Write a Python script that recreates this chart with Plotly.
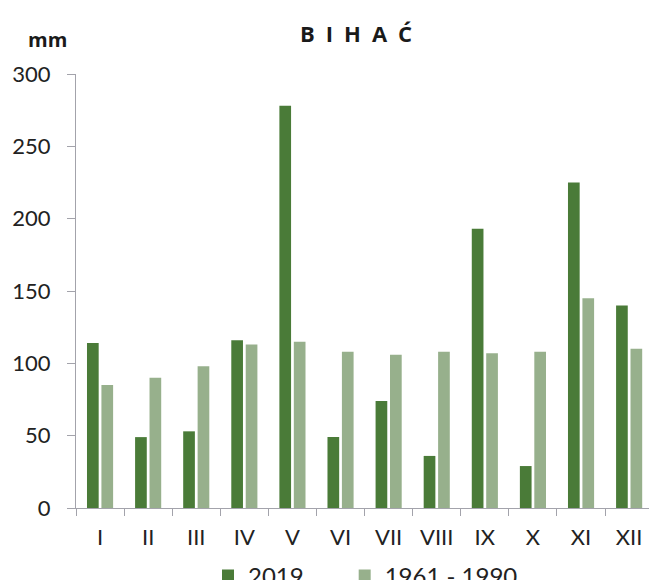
import plotly.graph_objects as go

# Monthly precipitation, Bihać (mm)
months = ["I", "II", "III", "IV", "V", "VI", "VII", "VIII", "IX", "X", "XI", "XII"]
rain_2019 = [114, 49, 53, 116, 278, 49, 74, 36, 193, 29, 225, 140]
rain_1961_1990 = [85, 90, 98, 113, 115, 108, 106, 108, 107, 108, 145, 110]
y_ticks = [0, 50, 100, 150, 200, 250, 300]

DARK = "#4a7b38"
LIGHT = "#97b08c"
AXIS = "#a3a3ab"
FONT = "Lato"
TXT = "#222222"

fig = go.Figure()
# trailing spaces widen the first legend entry so the second one sits further right
fig.add_trace(go.Bar(x=months, y=rain_2019, name="2019" + "\u2002" * 3,
                     marker=dict(color=DARK, line=dict(width=0))))
fig.add_trace(go.Bar(x=months, y=rain_1961_1990, name="1961 - 1990",
                     marker=dict(color=LIGHT, line=dict(width=0))))

fig.update_layout(
    width=649, height=580,
    margin=dict(l=76, r=0, t=74, b=72, autoexpand=False),
    paper_bgcolor="white", plot_bgcolor="white",
    barmode="group", bargap=0.40, bargroupgap=0.19,
    font=dict(family=FONT, size=22, color=TXT),
    showlegend=True,
    legend=dict(orientation="h", x=(208 - 76) / 573, xanchor="left",
                y=(508 - 576) / 434, yanchor="middle",
                font=dict(family=FONT, size=24, color=TXT),
                bgcolor="rgba(0,0,0,0)"),
    xaxis=dict(type="category", range=[-0.5, 11.413],
               showline=True, linecolor=AXIS, linewidth=1,
               ticks="outside", tickson="boundaries", ticklen=7,
               tickcolor=AXIS, showgrid=False, zeroline=False,
               tickfont=dict(family=FONT, size=22, color=TXT),
               ticklabelstandoff=10),
    yaxis=dict(range=[0, 300], tickvals=y_ticks,
               showline=True, linecolor=AXIS, linewidth=1,
               ticks="outside", ticklen=8, tickcolor=AXIS,
               showgrid=False, zeroline=False,
               tickfont=dict(family=FONT, size=22, color=TXT),
               ticklabelstandoff=12),
    annotations=[
        dict(text="<b>B\u2002I\u2002H\u2002A\u2002Ć</b>", xref="paper", yref="paper",
             x=(356 - 76) / 573, y=(508 - 33) / 434, xanchor="center", yanchor="middle",
             showarrow=False, font=dict(family="Open Sans", size=22, color="#1a1a1a")),
        dict(text="<b>mm</b>", xref="paper", yref="paper",
             x=(47 - 76) / 573, y=(508 - 39) / 434, xanchor="center", yanchor="middle",
             showarrow=False, font=dict(family="Open Sans", size=20, color="#1a1a1a")),
    ],
)

fig.write_html("out.html")
